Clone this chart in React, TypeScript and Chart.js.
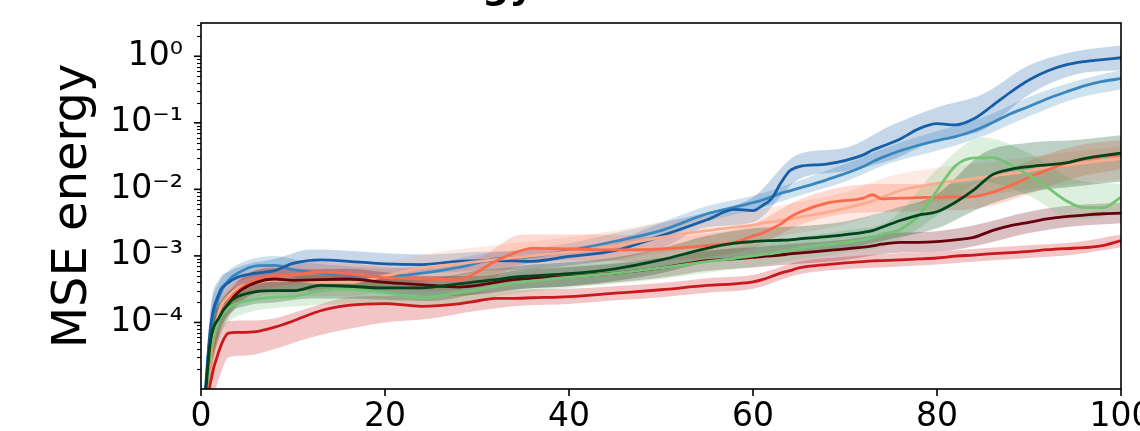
import React, { useEffect, useRef } from "react";
import { Chart, registerables } from "chart.js";

Chart.register(...registerables);

// ---- x positions of the mean curves ----
const X = [0, 1, 2, 3, 4, 6, 8, 10, 13, 16, 20, 24, 28, 30, 32, 34, 36, 40, 45, 50, 55, 58, 60, 61, 62, 63, 64, 65, 68, 72, 73, 74, 76, 78, 80, 82, 84, 86, 88, 90, 92, 94, 96, 98, 100];

// ---- mean curves ----
const darkBlueMean = [1e-6, 7.5e-5, 2.8e-4, 4.0e-4, 4.8e-4, 5.5e-4, 6.0e-4, 7.7e-4, 8.7e-4, 8.3e-4, 7.6e-4, 7.4e-4, 8.3e-4, 8.4e-4, 8.5e-4, 8.4e-4, 8.3e-4, 9.8e-4, 1.2e-3, 2.0e-3, 3.5e-3, 5.0e-3, 4.8e-3, 5.7e-3, 7.2e-3, 0.0123, 0.019, 0.022, 0.024, 0.033, 0.039, 0.044, 0.057, 0.081, 0.097, 0.093, 0.115, 0.18, 0.29, 0.44, 0.6, 0.74, 0.83, 0.89, 0.95];
const midBlueMean = [1e-6, 6.3e-5, 2.5e-4, 4.3e-4, 5.5e-4, 7.1e-4, 7.2e-4, 6.2e-4, 5.5e-4, 5.2e-4, 4.9e-4, 5.5e-4, 6.7e-4, 7.8e-4, 9.0e-4, 9.4e-4, 9.8e-4, 1.2e-3, 1.66e-3, 2.4e-3, 4.3e-3, 5.4e-3, 6.3e-3, 6.9e-3, 7.7e-3, 8.7e-3, 9.5e-3, 0.0104, 0.0139, 0.022, 0.026, 0.03, 0.038, 0.046, 0.054, 0.062, 0.076, 0.1, 0.137, 0.176, 0.23, 0.29, 0.36, 0.42, 0.46];
const peachMean = [1e-6, 2.7e-5, 1.5e-4, 2.5e-4, 3.3e-4, 4.0e-4, 4.3e-4, 4.3e-4, 4.0e-4, 4.0e-4, 5.0e-4, 6.6e-4, 7.6e-4, 8.2e-4, 8.8e-4, 9.4e-4, 1.0e-3, 1.15e-3, 1.42e-3, 1.9e-3, 2.4e-3, 2.7e-3, 2.9e-3, 3.1e-3, 3.25e-3, 3.4e-3, 3.6e-3, 3.8e-3, 4.5e-3, 6.1e-3, 6.7e-3, 7.5e-3, 9.6e-3, 0.011, 0.0123, 0.0134, 0.0145, 0.0158, 0.0173, 0.019, 0.0214, 0.023, 0.025, 0.027, 0.029];
const tomatoMean = [1e-6, 3.2e-5, 1.2e-4, 2.1e-4, 3.0e-4, 4.4e-4, 5.0e-4, 5.2e-4, 5.7e-4, 5.4e-4, 4.7e-4, 4.5e-4, 4.4e-4, 5.7e-4, 8.3e-4, 1.1e-3, 1.3e-3, 1.27e-3, 1.23e-3, 1.27e-3, 1.43e-3, 1.6e-3, 2.0e-3, 2.2e-3, 2.55e-3, 3.0e-3, 3.8e-3, 4.5e-3, 6.2e-3, 7.4e-3, 8.3e-3, 7.2e-3, 7.4e-3, 7.5e-3, 7.6e-3, 7.7e-3, 7.8e-3, 9.0e-3, 0.0114, 0.0152, 0.0196, 0.0246, 0.0285, 0.031, 0.033];
const lightGreenMean = [1e-6, 3.4e-5, 1.07e-4, 1.65e-4, 1.94e-4, 2.25e-4, 2.4e-4, 2.45e-4, 3.0e-4, 3.2e-4, 2.8e-4, 2.35e-4, 2.8e-4, 3.1e-4, 3.5e-4, 3.9e-4, 4.2e-4, 4.8e-4, 5.5e-4, 6.6e-4, 8.2e-4, 9.2e-4, 1.0e-3, 1.05e-3, 1.08e-3, 1.17e-3, 1.2e-3, 1.3e-3, 1.48e-3, 1.76e-3, 1.9e-3, 2.1e-3, 2.5e-3, 4.0e-3, 9.6e-3, 0.0225, 0.0297, 0.03, 0.0235, 0.0162, 0.0107, 6.8e-3, 5.3e-3, 5.3e-3, 7.6e-3];
const darkGreenMean = [1e-6, 4.8e-5, 1.2e-4, 1.94e-4, 2.45e-4, 2.9e-4, 3.0e-4, 3.0e-4, 3.6e-4, 3.5e-4, 3.3e-4, 3.3e-4, 3.8e-4, 4.1e-4, 4.4e-4, 4.8e-4, 5.0e-4, 5.4e-4, 6.4e-4, 8.7e-4, 1.3e-3, 1.55e-3, 1.64e-3, 1.68e-3, 1.7e-3, 1.72e-3, 1.74e-3, 1.8e-3, 1.95e-3, 2.26e-3, 2.4e-3, 2.7e-3, 3.4e-3, 4.1e-3, 4.6e-3, 6.4e-3, 9.8e-3, 0.0165, 0.02, 0.022, 0.0234, 0.025, 0.029, 0.032, 0.035];
const darkRedMean = [1e-6, 4.5e-5, 1.07e-4, 1.9e-4, 2.8e-4, 4.0e-4, 4.5e-4, 4.3e-4, 4.4e-4, 4.5e-4, 4.0e-4, 3.7e-4, 3.4e-4, 3.6e-4, 4.0e-4, 4.4e-4, 4.6e-4, 4.9e-4, 5.5e-4, 6.6e-4, 8.5e-4, 9.0e-4, 9.5e-4, 9.8e-4, 1.0e-3, 1.03e-3, 1.07e-3, 1.1e-3, 1.2e-3, 1.35e-3, 1.41e-3, 1.5e-3, 1.6e-3, 1.6e-3, 1.64e-3, 1.74e-3, 1.9e-3, 2.4e-3, 2.85e-3, 3.2e-3, 3.6e-3, 3.9e-3, 4.1e-3, 4.3e-3, 4.4e-3];
const redMean = [1e-6, 1.2e-5, 3.9e-5, 6.9e-5, 7.1e-5, 7.3e-5, 8.5e-5, 1.05e-4, 1.5e-4, 1.8e-4, 1.92e-4, 1.75e-4, 1.9e-4, 2.1e-4, 2.3e-4, 2.3e-4, 2.35e-4, 2.45e-4, 2.75e-4, 3.1e-4, 3.6e-4, 3.8e-4, 4.07e-4, 4.4e-4, 4.9e-4, 5.5e-4, 6.0e-4, 6.6e-4, 7.4e-4, 8.2e-4, 8.4e-4, 8.5e-4, 8.7e-4, 9.0e-4, 9.3e-4, 9.9e-4, 1.03e-3, 1.08e-3, 1.12e-3, 1.17e-3, 1.24e-3, 1.29e-3, 1.33e-3, 1.43e-3, 1.7e-3];

// ---- x positions of the shaded bands ----
const BAND_X = [0, 1, 2, 3, 5, 8, 12, 16, 20, 25, 30, 35, 40, 45, 50, 55, 60, 65, 70, 75, 80, 85, 90, 95, 100];

// ---- band lower / upper edges ----
const darkBlueLo = [1e-6, 3e-5, 1.6e-4, 2.6e-4, 3.5e-4, 4.2e-4, 5.5e-4, 5.5e-4, 5.3e-4, 5.5e-4, 6e-4, 6.2e-4, 7.2e-4, 8.8e-4, 1.3e-3, 2.7e-3, 3.2e-3, 0.0142, 0.0187, 0.0275, 0.055, 0.078, 0.265, 0.53, 0.62];
const darkBlueHi = [1e-6, 1.5e-4, 4.5e-4, 5.8e-4, 7.5e-4, 9e-4, 1.25e-3, 1.2e-3, 1.1e-3, 1.05e-3, 1.15e-3, 1.2e-3, 1.35e-3, 1.7e-3, 3.1e-3, 4.5e-3, 7.6e-3, 0.034, 0.042, 0.091, 0.17, 0.27, 0.73, 1.18, 1.45];
const midBlueLo = [1e-6, 2.5e-5, 1.5e-4, 3e-4, 4.5e-4, 5e-4, 4.2e-4, 4e-4, 3.8e-4, 4.3e-4, 5.8e-4, 7.5e-4, 9e-4, 1.25e-3, 1.8e-3, 3.3e-3, 4.8e-3, 8e-3, 0.013, 0.025, 0.038, 0.063, 0.125, 0.23, 0.32];
const midBlueHi = [1e-6, 1.3e-4, 4e-4, 6e-4, 8.5e-4, 1e-3, 7.8e-4, 7e-4, 6.5e-4, 7.5e-4, 1.05e-3, 1.25e-3, 1.55e-3, 2.2e-3, 3.2e-3, 5.6e-3, 8e-3, 0.0135, 0.024, 0.045, 0.075, 0.12, 0.245, 0.42, 0.62];
const peachLo = [1e-6, 1e-5, 8e-5, 1.5e-4, 2.2e-4, 2.6e-4, 2.5e-4, 2.5e-4, 3.1e-4, 4.2e-4, 5e-4, 6e-4, 7e-4, 8.5e-4, 1.1e-3, 1.4e-3, 1.7e-3, 2.2e-3, 3e-3, 5e-3, 6.5e-3, 8e-3, 0.01, 0.012, 0.014];
const peachHi = [1e-6, 6e-5, 2.6e-4, 4e-4, 6e-4, 7e-4, 6.8e-4, 6.6e-4, 8e-4, 1.1e-3, 1.35e-3, 1.6e-3, 1.9e-3, 2.4e-3, 3.2e-3, 4e-3, 4.8e-3, 6.5e-3, 9e-3, 0.016, 0.021, 0.025, 0.031, 0.037, 0.045];
const tomatoLo = [1e-6, 1.5e-5, 7e-5, 1.4e-4, 2.5e-4, 3.4e-4, 3.8e-4, 3.6e-4, 3.2e-4, 3e-4, 3.6e-4, 7.5e-4, 8.5e-4, 8.3e-4, 8.5e-4, 9.5e-4, 1.3e-3, 2.9e-3, 4.3e-3, 4.6e-3, 4.8e-3, 5.3e-3, 8.5e-3, 0.015, 0.02];
const tomatoHi = [1e-6, 7e-5, 2e-4, 3.2e-4, 5.4e-4, 7.2e-4, 8.2e-4, 7.8e-4, 6.8e-4, 6.5e-4, 9e-4, 2.1e-3, 2.1e-3, 2.1e-3, 1.9e-3, 2.2e-3, 3e-3, 7e-3, 0.011, 0.012, 0.012, 0.014, 0.027, 0.045, 0.055];
const lightGreenLo = [1e-6, 1.5e-5, 6e-5, 1e-4, 1.4e-4, 1.65e-4, 1.8e-4, 1.9e-4, 1.8e-4, 1.7e-4, 2.2e-4, 2.8e-4, 3.3e-4, 3.8e-4, 4.5e-4, 5.6e-4, 6.8e-4, 8.8e-4, 1.1e-3, 1.5e-3, 4e-3, 0.013, 8e-3, 3.5e-3, 4.5e-3];
const lightGreenHi = [1e-6, 7e-5, 1.8e-4, 2.6e-4, 3e-4, 3.4e-4, 4.2e-4, 4.6e-4, 4.1e-4, 3.3e-4, 4.4e-4, 5.8e-4, 6.9e-4, 7.9e-4, 9.5e-4, 1.18e-3, 1.45e-3, 1.9e-3, 2.4e-3, 3.5e-3, 0.02, 0.06, 0.035, 0.014, 0.012];
const darkGreenLo = [1e-6, 2e-5, 7e-5, 1.3e-4, 1.8e-4, 2e-4, 2.3e-4, 2.3e-4, 2.2e-4, 2.1e-4, 2.7e-4, 3.2e-4, 3.5e-4, 4.2e-4, 5.5e-4, 8e-4, 1e-3, 1.1e-3, 1.3e-3, 1.8e-3, 2.6e-3, 5.5e-3, 9e-3, 0.011, 0.013];
const darkGreenHi = [1e-6, 1e-4, 2e-4, 2.9e-4, 3.8e-4, 4.3e-4, 5.2e-4, 5.2e-4, 4.9e-4, 4.7e-4, 6e-4, 7.2e-4, 8e-4, 9.5e-4, 1.3e-3, 2e-3, 2.6e-3, 2.8e-3, 3.3e-3, 5e-3, 8.5e-3, 0.035, 0.05, 0.055, 0.065];
const darkRedLo = [1e-6, 1.8e-5, 6e-5, 1.2e-4, 2.4e-4, 3e-4, 3e-4, 3.1e-4, 2.8e-4, 2.5e-4, 2.6e-4, 3.2e-4, 3.5e-4, 4e-4, 4.7e-4, 6e-4, 6.7e-4, 7.6e-4, 8.7e-4, 1.1e-3, 1.15e-3, 1.5e-3, 2.2e-3, 2.8e-3, 3.1e-3];
const darkRedHi = [1e-6, 9e-5, 1.8e-4, 2.9e-4, 5.3e-4, 6.5e-4, 6.3e-4, 6.4e-4, 5.7e-4, 5e-4, 5e-4, 6.2e-4, 6.8e-4, 7.6e-4, 9.2e-4, 1.2e-3, 1.35e-3, 1.55e-3, 1.75e-3, 2.2e-3, 2.35e-3, 3.1e-3, 4.6e-3, 5.8e-3, 6.3e-3];
const redLo = [1e-6, 5e-6, 1.5e-5, 3e-5, 3.2e-5, 4e-5, 6e-5, 8e-5, 1e-4, 1.15e-4, 1.5e-4, 1.8e-4, 1.9e-4, 2.15e-4, 2.4e-4, 2.8e-4, 3.2e-4, 5.3e-4, 6.3e-4, 6.8e-4, 7.4e-4, 8.4e-4, 9.3e-4, 1.05e-3, 1.35e-3];
const redHi = [1e-6, 2.5e-5, 7e-5, 1.05e-4, 1.07e-4, 1.15e-4, 1.7e-4, 2.4e-4, 2.5e-4, 2.5e-4, 2.8e-4, 3.1e-4, 3.2e-4, 3.5e-4, 3.9e-4, 4.6e-4, 5.2e-4, 8.2e-4, 9.7e-4, 1.08e-3, 1.15e-3, 1.3e-3, 1.45e-3, 1.6e-3, 2.1e-3];

// ---- axes ----
const X_TICKS = [0, 20, 40, 60, 80, 100];
const Y_MAJOR = [1e-4, 1e-3, 1e-2, 1e-1, 1];
const Y_MIN = 1e-5;
const Y_MAX = 3.16;
const Y_LABEL = "MSE energy";
const TITLE = "MSE energy";

// first entry is drawn on top
const SERIES = [
  { color: "#00441b", mean: darkGreenMean, lo: darkGreenLo, hi: darkGreenHi },
  { color: "#74c476", mean: lightGreenMean, lo: lightGreenLo, hi: lightGreenHi },
  { color: "#cb181d", mean: redMean, lo: redLo, hi: redHi },
  { color: "#67000d", mean: darkRedMean, lo: darkRedLo, hi: darkRedHi },
  { color: "#fb6a4a", mean: tomatoMean, lo: tomatoLo, hi: tomatoHi },
  { color: "#fcab8f", mean: peachMean, lo: peachLo, hi: peachHi },
  { color: "#175ea8", mean: darkBlueMean, lo: darkBlueLo, hi: darkBlueHi },
  { color: "#3a87c0", mean: midBlueMean, lo: midBlueLo, hi: midBlueHi },
];

const SUP: Record<string, string> = { "-": "\u207B", "0": "\u2070", "1": "\u00B9", "2": "\u00B2", "3": "\u00B3", "4": "\u2074", "5": "\u2075" };
const fmtPow = (v: number) => {
  const e = Math.round(Math.log10(v));
  return "10" + String(e).split("").map((c) => SUP[c] ?? c).join("");
};

const rgba = (hex: string, a: number) => {
  const n = parseInt(hex.slice(1), 16);
  return `rgba(${(n >> 16) & 255},${(n >> 8) & 255},${n & 255},${a})`;
};

const framePlugin = {
  id: "frame",
  afterDatasetsDraw(chart: any) {
    const { ctx, chartArea: a, scales } = chart;
    const ys = scales.y;
    const xs = scales.x;
    ctx.save();
    ctx.strokeStyle = "#000";
    // minor y ticks
    ctx.lineWidth = 1.1;
    for (let k = -6; k <= 1; k++) {
      for (let m = 2; m <= 9; m++) {
        const v = m * Math.pow(10, k);
        if (v < Y_MIN || v > Y_MAX) continue;
        const p = Math.round(ys.getPixelForValue(v)) + 0.5;
        ctx.beginPath();
        ctx.moveTo(a.left, p);
        ctx.lineTo(a.left - 4, p);
        ctx.stroke();
      }
    }
    // major y ticks
    ctx.lineWidth = 1.6;
    for (const v of Y_MAJOR) {
      const p = ys.getPixelForValue(v);
      ctx.beginPath();
      ctx.moveTo(a.left, p);
      ctx.lineTo(a.left - 7, p);
      ctx.stroke();
    }
    // x ticks
    for (const v of X_TICKS) {
      const p = xs.getPixelForValue(v);
      ctx.beginPath();
      ctx.moveTo(p, a.bottom);
      ctx.lineTo(p, a.bottom + 7);
      ctx.stroke();
    }
    // box
    ctx.lineWidth = 1.6;
    ctx.strokeRect(a.left, a.top, a.right - a.left, a.bottom - a.top);
    ctx.restore();
  },
  afterDraw(chart: any) {
    const { ctx } = chart;
    ctx.save();
    ctx.font = 'bold 38px "DejaVu Sans"';
    ctx.fillStyle = "#000";
    ctx.textAlign = "right";
    ctx.textBaseline = "alphabetic";
    ctx.fillText(TITLE, 534, -2);
    ctx.restore();
  },
};

export default function App() {
  const ref = useRef<HTMLCanvasElement | null>(null);

  useEffect(() => {
    if (!ref.current) return;
    Chart.defaults.font.family = '"DejaVu Sans", sans-serif';

    const bandSets = SERIES.flatMap((s) => [
      {
        data: BAND_X.map((x, i) => ({ x, y: s.hi[i] })),
        fill: "+1",
        backgroundColor: rgba(s.color, 0.25),
        borderColor: "rgba(0,0,0,0)",
        borderWidth: 0,
        pointRadius: 0,
        cubicInterpolationMode: "monotone",
        order: 1,
      },
      {
        data: BAND_X.map((x, i) => ({ x, y: s.lo[i] })),
        fill: false,
        borderColor: "rgba(0,0,0,0)",
        borderWidth: 0,
        pointRadius: 0,
        cubicInterpolationMode: "monotone",
        order: 1,
      },
    ]);
    const lineSets = SERIES.map((s) => ({
      data: X.map((x, i) => ({ x, y: s.mean[i] })),
      borderColor: s.color,
      backgroundColor: s.color,
      borderWidth: 2.8,
      pointRadius: 0,
      fill: false,
      cubicInterpolationMode: "monotone",
      order: 0,
    }));

    const chart = new Chart(ref.current, {
      type: "line",
      data: { datasets: [...bandSets, ...lineSets] as any },
      options: {
        responsive: false,
        animation: false,
        devicePixelRatio: 1,
        layout: { padding: { top: 23, right: 19, left: 0, bottom: 0 } },
        plugins: { legend: { display: false }, tooltip: { enabled: false }, title: { display: false } },
        scales: {
          x: {
            type: "linear",
            min: 0,
            max: 100,
            afterBuildTicks: (s: any) => {
              s.ticks = X_TICKS.map((v) => ({ value: v }));
            },
            ticks: { font: { size: 33 }, color: "#000", padding: 9, maxRotation: 0, autoSkip: false, callback: (v: any) => String(v) },
            grid: { display: false, drawTicks: false },
            border: { display: false },
            afterFit: (s: any) => {
              s.height = 42;
              s.paddingLeft = 0;
              s.paddingRight = 0;
            },
          },
          y: {
            type: "logarithmic",
            min: Y_MIN,
            max: Y_MAX,
            afterBuildTicks: (s: any) => {
              s.ticks = Y_MAJOR.map((v) => ({ value: v }));
            },
            ticks: { font: { size: 33 }, color: "#000", padding: 18, autoSkip: false, callback: (v: any) => fmtPow(Number(v)) },
            grid: { display: false, drawTicks: false },
            border: { display: false },
            title: { display: true, text: Y_LABEL, color: "#000", font: { size: 48 }, padding: { top: 45, bottom: 0 } },
            afterFit: (s: any) => {
              s.width = 201;
              s.paddingTop = 0;
              s.paddingBottom = 0;
            },
          },
        },
      } as any,
      plugins: [framePlugin],
    });
    return () => chart.destroy();
  }, []);

  return (
    <div style={{ position: "absolute", left: 0, top: 0, width: 1140, height: 431, background: "#fff" }}>
      <canvas ref={ref} width={1140} height={431} style={{ display: "block", width: 1140, height: 431 }} />
    </div>
  );
}
